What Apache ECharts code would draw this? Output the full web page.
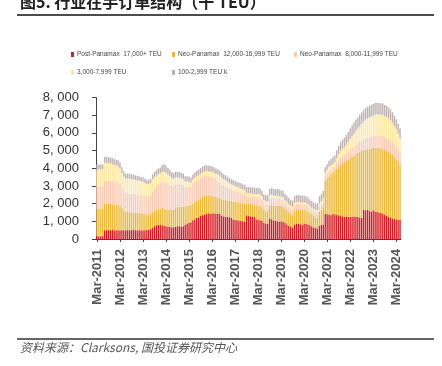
<!DOCTYPE html>
<html><head><meta charset="utf-8">
<script src="https://cdn.jsdelivr.net/npm/echarts/dist/echarts.min.js"></script>
<style>html,body{margin:0;padding:0;background:#fff}#c{width:442px;height:366px}</style>
</head><body><div id="c"></div><script>
const categories = [
'Mar-2011','Apr-2011','May-2011','Jun-2011','Jul-2011','Aug-2011','Sep-2011','Oct-2011','Nov-2011','Dec-2011',
'Jan-2012','Feb-2012','Mar-2012','Apr-2012','May-2012','Jun-2012','Jul-2012','Aug-2012','Sep-2012','Oct-2012','Nov-2012','Dec-2012',
'Jan-2013','Feb-2013','Mar-2013','Apr-2013','May-2013','Jun-2013','Jul-2013','Aug-2013','Sep-2013','Oct-2013','Nov-2013','Dec-2013',
'Jan-2014','Feb-2014','Mar-2014','Apr-2014','May-2014','Jun-2014','Jul-2014','Aug-2014','Sep-2014','Oct-2014','Nov-2014','Dec-2014',
'Jan-2015','Feb-2015','Mar-2015','Apr-2015','May-2015','Jun-2015','Jul-2015','Aug-2015','Sep-2015','Oct-2015','Nov-2015','Dec-2015',
'Jan-2016','Feb-2016','Mar-2016','Apr-2016','May-2016','Jun-2016','Jul-2016','Aug-2016','Sep-2016','Oct-2016','Nov-2016','Dec-2016',
'Jan-2017','Feb-2017','Mar-2017','Apr-2017','May-2017','Jun-2017','Jul-2017','Aug-2017','Sep-2017','Oct-2017','Nov-2017','Dec-2017',
'Jan-2018','Feb-2018','Mar-2018','Apr-2018','May-2018','Jun-2018','Jul-2018','Aug-2018','Sep-2018','Oct-2018','Nov-2018','Dec-2018',
'Jan-2019','Feb-2019','Mar-2019','Apr-2019','May-2019','Jun-2019','Jul-2019','Aug-2019','Sep-2019','Oct-2019','Nov-2019','Dec-2019',
'Jan-2020','Feb-2020','Mar-2020','Apr-2020','May-2020','Jun-2020','Jul-2020','Aug-2020','Sep-2020','Oct-2020','Nov-2020','Dec-2020',
'Jan-2021','Feb-2021','Mar-2021','Apr-2021','May-2021','Jun-2021','Jul-2021','Aug-2021','Sep-2021','Oct-2021','Nov-2021','Dec-2021',
'Jan-2022','Feb-2022','Mar-2022','Apr-2022','May-2022','Jun-2022','Jul-2022','Aug-2022','Sep-2022','Oct-2022','Nov-2022','Dec-2022',
'Jan-2023','Feb-2023','Mar-2023','Apr-2023','May-2023','Jun-2023','Jul-2023','Aug-2023','Sep-2023','Oct-2023','Nov-2023','Dec-2023',
'Jan-2024','Feb-2024','Mar-2024','Apr-2024','May-2024'
];
const seriesNames = ['Post-Panamax  17,000+ TEU','Neo-Panamax  12,000-16,999 TEU','Neo-Panamax  8,000-11,999 TEU','3,000-7,999 TEU','100-2,999 TEU k'];
const postPanamax = [
150,150,160,160,
490,500,500,500,510,500,500,500,500,500,500,500,500,500,500,510,500,500,500,500,500,500,510,520,
560,640,720,780,790,790,
780,760,720,700,680,660,660,
700,720,720,710,720,
800,870,900,950,
1060,1120,1200,1230,
1300,1350,1380,1420,
1450,1440,1460,1450,1430,1440,1420,
1320,1280,1260,1250,1230,1200,
1100,1080,1060,1050,1020,1000,980,
1340,1320,1280,1260,1240,
1120,1080,1060,1040,
920,880,860,
1160,1120,1060,1020,1000,990,1010,980,
900,820,760,700,640,
820,880,860,830,800,880,
860,820,780,720,650,620,600,
760,800,820,
1420,1400,1380,1340,1420,1380,1360,1340,1330,
1280,1260,1270,1260,1250,1260,1270,1260,1240,1220,1200,
1640,1620,1640,1600,1560,1620,1560,
1540,1500,1480,1420,1380,1300,
1260,1200,1150,1130,1100,1080,1070
];
const neoLarge = [
1560,1570,1560,1570,
1520,1510,1490,1480,1470,1450,1440,1420,
1380,1250,1100,1050,
1020,1010,1000,990,980,970,960,950,950,
920,880,870,
860,860,860,870,910,940,
970,960,960,950,970,980,990,
1080,1080,1100,1110,1100,
1050,1010,1000,970,
940,960,950,970,
1000,1030,1060,1040,
1010,1000,960,950,930,890,880,
930,940,940,930,930,950,
1020,1020,1020,1010,1020,1020,1020,
660,680,700,700,710,
800,820,800,780,
720,690,700,
740,800,840,860,900,890,850,860,
820,800,740,700,710,
800,780,820,830,840,770,
760,730,700,680,650,600,600,
790,850,980,
1880,2020,2170,2310,2330,2470,2590,2760,2870,
3000,3090,3150,3240,3330,3390,3450,3540,3620,3700,3780,
3380,3440,3440,3500,3560,3520,3590,
3610,3640,3640,3680,3670,3700,
3660,3650,3600,3490,3400,3270,3130
];
const neoMid = [
1220,1220,1230,1220,
1290,1300,1300,1310,1300,1290,1290,1290,
1250,1180,1120,1080,
1050,1050,1040,1040,1030,1030,1030,1030,1020,
1010,1000,1000,1020,
1180,1250,1330,1400,1450,
1480,1500,1500,1490,1420,
1350,1320,1300,1300,1290,1270,1250,
1100,1080,1060,1000,
1100,1140,1160,1180,
1150,1140,1120,1100,
1080,1070,1070,1050,1030,
930,880,840,800,780,740,700,660,
640,620,600,580,560,540,520,
430,420,420,410,410,420,440,450,
430,420,420,
400,400,410,400,400,400,400,390,390,
320,310,320,330,330,
300,300,300,290,300,300,300,290,
270,260,280,300,310,320,
300,300,
250,280,270,260,260,250,
350,360,380,390,390,
400,420,450,480,490,
520,540,560,580,
620,640,660,660,680,680,700,700,700,700,720,720,
700,720,720,720,710,700,700,690
];
const feeder3000 = [
1000,990,990,980,
1010,1000,990,980,960,940,920,900,
860,820,800,780,
860,860,850,840,830,820,800,780,760,
740,720,720,720,
700,660,600,560,520,
560,580,560,500,480,
450,430,400,380,360,340,320,
300,290,280,260,
250,240,230,220,
220,230,250,270,
290,300,300,300,290,
380,390,380,360,340,320,300,290,
290,280,270,260,250,240,230,
160,160,170,180,190,190,200,200,
160,150,150,
160,160,170,160,160,150,150,150,150,
150,150,150,150,150,
130,120,120,120,120,120,120,120,
110,110,100,110,120,140,
180,200,
200,200,260,250,250,250,
300,350,400,430,450,
500,560,620,680,740,
800,850,900,950,
1000,1050,1080,1100,1120,1150,1180,1200,1200,1220,1200,1180,
1200,1180,1150,1100,1050,1000,900,800
];
const feeder100 = [
280,270,280,280,
340,340,340,340,340,340,350,350,
330,300,290,280,
270,270,270,270,260,260,260,250,260,
250,240,240,250,
280,300,320,330,340,
380,420,400,380,360,
330,330,320,320,320,310,310,
300,300,290,290,
300,310,320,330,
330,340,340,340,
330,320,320,310,300,
300,300,290,290,290,290,280,280,
280,280,290,290,300,300,300,
350,360,360,360,360,360,360,360,
320,320,330,
360,370,380,380,380,380,370,360,360,
360,360,350,340,340,
380,390,390,390,380,380,380,380,
380,380,380,380,390,400,
400,420,
300,320,350,360,370,380,
420,460,500,520,540,
560,580,600,620,630,
640,640,650,650,
640,650,650,660,660,660,660,650,650,640,640,630,
620,620,610,600,600,590,580,570
];
const yTicks = [0,1000,2000,3000,4000,5000,6000,7000,8000];
const colors = ['#d51c24','#ebb83b','#f9cbb5','#fde8a6','#bdb1b1'];
const dataSets = [postPanamax, neoLarge, neoMid, feeder3000, feeder100];

const chart = echarts.init(document.getElementById('c'), null, {renderer:'canvas'});
const legendPos = [[71,51],[172,51],[294,51],[71,69],[172,69]];
const option = {
  animation:false,
  backgroundColor:'#fff',
  grid:{left:96, top:97.5, width:305, height:141.5, containLabel:false},
  legend: seriesNames.map((n,i)=>({
    data:[n], left:legendPos[i][0], top:legendPos[i][1], padding:0,
    itemWidth:3, itemHeight:5, icon:'rect',
    textStyle:{fontSize:6.5, color:'#444', fontFamily:'Liberation Sans', padding:[0,0,0,-2]}
  })),
  xAxis:{
    type:'category', data:categories,
    axisLine:{show:true, lineStyle:{color:'#444', width:1}},
    axisTick:{show:true, interval:11, alignWithLabel:true, length:3, lineStyle:{color:'#444'}},
    axisLabel:{interval:11, rotate:90, margin:10, fontSize:13, fontWeight:'bold', color:'#555', fontFamily:'Liberation Sans'}
  },
  yAxis:{
    type:'value', min:0, max:8000, interval:1000,
    axisLine:{show:true, lineStyle:{color:'#444', width:1}},
    axisTick:{show:true, length:4, lineStyle:{color:'#444'}},
    splitLine:{show:false},
    axisLabel:{margin:17, fontSize:13, color:'#333', fontFamily:'Liberation Sans',
      formatter:function(v){ if(v<1000) return String(v); const t=Math.floor(v/1000); const r=String(v%1000).padStart(3,'0'); return t+', '+r; }}
  },
  series: dataSets.map((d,i)=>({
    name:seriesNames[i], type:'bar', stack:'total', data:d,
    barCategoryGap:'28%', itemStyle:{color:colors[i]}
  })),
  graphic:[
    {type:'text', left:20, top:-6, style:{text:'图5. 行业在手订单结构（千 TEU）', font:'bold 16px "Noto Sans CJK SC", sans-serif', fill:'#222'}},
    {type:'line', shape:{x1:17,y1:15,x2:434,y2:15}, style:{stroke:'#111', lineWidth:1.5}},
    {type:'line', shape:{x1:17,y1:339,x2:434,y2:339}, style:{stroke:'#333', lineWidth:1.3}},
    {type:'text', left:20, top:341, style:{text:'资料来源：Clarksons, 国投证券研究中心', font:'italic 12px "Noto Sans CJK SC", sans-serif', fill:'#555'}}
  ]
};
chart.setOption(option);
</script></body></html>
